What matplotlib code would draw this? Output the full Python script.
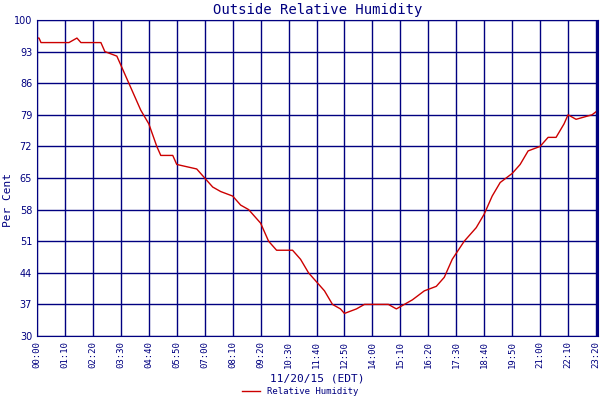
import matplotlib
matplotlib.use("Agg")
from matplotlib import pyplot as plt
import numpy as np

# minutes after midnight, relative humidity (%)
minutes = [0, 5, 10, 60, 80, 100, 110, 160, 170, 200, 210, 220, 240, 260, 280,
           300, 310, 340, 350, 400, 420, 440, 460, 490, 510, 530, 560, 580, 600,
           640, 660, 680, 700, 720, 740, 760, 770, 800, 820, 850, 880, 900, 920,
           940, 970, 1000, 1020, 1040, 1070, 1100, 1120, 1140, 1160, 1190, 1210,
           1230, 1260, 1280, 1300, 1320, 1330, 1350, 1390, 1405]
humidity = [96, 96, 95, 95, 95, 96, 95, 95, 93, 92, 90, 88, 84, 80, 77,
            72, 70, 70, 68, 67, 65, 63, 62, 61, 59, 58, 55, 51, 49,
            49, 47, 44, 42, 40, 37, 36, 35, 36, 37, 37, 37, 36, 37,
            38, 40, 41, 43, 47, 51, 54, 57, 61, 64, 66, 68,
            71, 72, 74, 74, 77, 79, 78, 79, 80]
tick_min = list(range(0, 1401, 70))
tick_lab = ["%02d:%02d" % (m // 60, m % 60) for m in tick_min]

navy = "#000080"
mono = "DejaVu Sans Mono"
fig = plt.figure(figsize=(6, 4), dpi=100)
ax = fig.add_axes([37/600, 64/400, 561/600, 316/400])
ax.plot(minutes, humidity, color="#cc0000", lw=1, label="Relative Humidity")
ax.set_xlim(0, 1405)
ax.set_ylim(30, 100)
ax.set_yticks(range(30, 101, 7))
ax.set_xticks(tick_min)
ax.set_xticklabels(tick_lab, rotation=90, fontsize=6.5, family=mono, color=navy)
ax.tick_params(axis="y", labelsize=7, colors=navy, length=0)
ax.tick_params(axis="x", length=0, colors=navy)
ax.grid(True, color=navy, lw=1)
for s in ax.spines.values():
    s.set_color(navy)
ax.axvline(1402, color=navy, lw=2)
ax.set_title("Outside Relative Humidity", color=navy, fontsize=10, family=mono, pad=4)
fig.text(8/600, 0.5, "Per Cent", rotation=90, va="center", ha="center",
         color=navy, fontsize=8, family=mono)
ax.set_xlabel("11/20/15 (EDT)", color=navy, fontsize=8, family=mono, labelpad=4)
leg = fig.legend(loc="lower center", bbox_to_anchor=(0.5, -0.01), frameon=False,
                 prop={"family": mono, "size": 6.5}, handlelength=2)
for t in leg.get_texts():
    t.set_color(navy)
fig.savefig("out.png")
